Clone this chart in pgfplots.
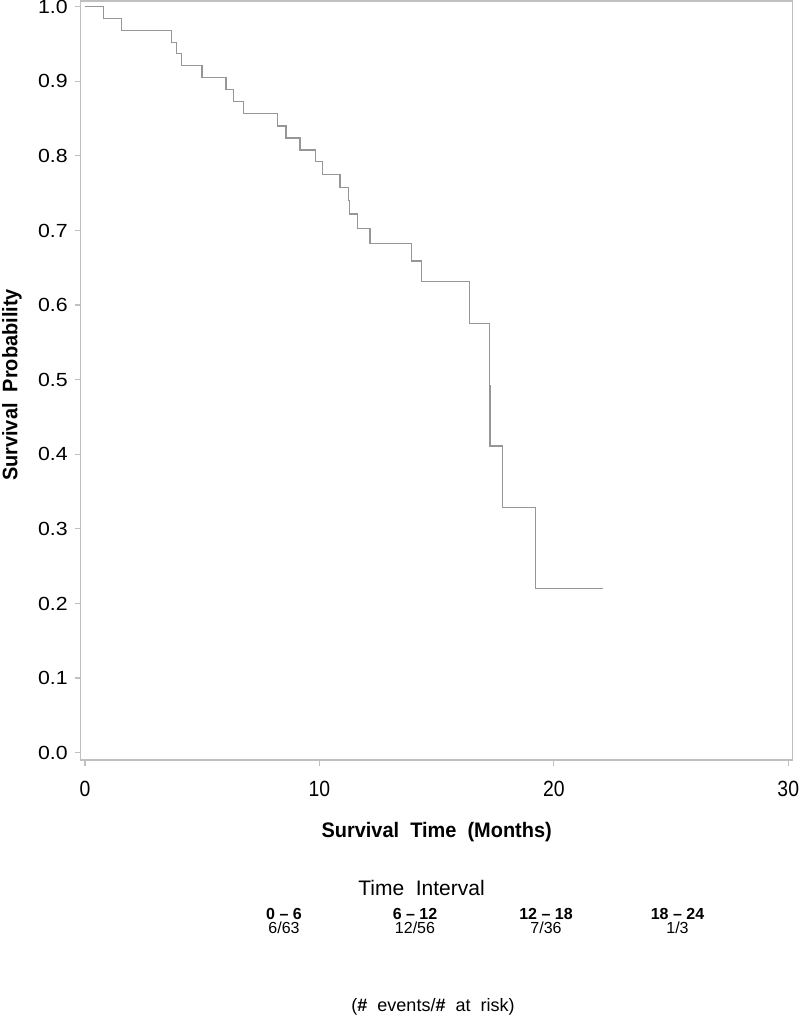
\documentclass[border=0pt]{standalone}
\usepackage{fontspec}
\setmainfont{Liberation Sans}
\newfontfamily\xtickfont[FakeStretch=0.88]{Liberation Sans}
\newfontfamily\ytickfont[FakeStretch=1.12]{Liberation Sans}
\newfontfamily\labfont[FakeStretch=0.95]{Liberation Sans}
\usepackage{pgfplots}
\pgfplotsset{compat=1.18}
\definecolor{framegray}{RGB}{192,192,192}
\definecolor{curvegray}{RGB}{150,150,150}
\begin{document}
\begin{tikzpicture}
\useasboundingbox (-40.35bp,-129.5bp) rectangle (359.65bp,380bp);
\begin{axis}[
  at={(0,0)}, anchor=south west,
  scale only axis,
  width=356bp, height=379.5bp,
  xmin=-0.18, xmax=30.19,
  ymin=-0.0098, ymax=1.0076,
  xtick={0,10,20,30},
  ytick={0,0.1,...,1.0},
  yticklabel style={/pgf/number format/fixed,/pgf/number format/fixed zerofill,/pgf/number format/precision=1},
  /pgf/number format/assume math mode=true,
  tick align=outside,
  major tick length=3bp,
  xtick pos=bottom, ytick pos=left,
  axis line style={framegray, line width=0.6bp},
  every tick/.style={framegray, line width=0.6bp},
  xticklabel style={font=\fontsize{11bp}{12bp}\selectfont\xtickfont, black, anchor=center, yshift=-11.5bp},
  yticklabel style={font=\fontsize{9.5bp}{11bp}\selectfont\ytickfont, black, anchor=east, xshift=0bp},
  xlabel={\textbf{Survival\ \ Time\ \ (Months)}},
  ylabel={\textbf{Survival\ \ Probability}},
  xlabel style={font=\fontsize{10.5bp}{12bp}\selectfont\labfont, at={(rel axis cs:0.5,0)}, anchor=center, yshift=-36bp},
  ylabel style={font=\fontsize{10.5bp}{12bp}\selectfont\labfont, at={(rel axis cs:0,0.494)}, anchor=center, yshift=34.35bp},
  clip=false,
]
\addplot[const plot, curvegray, line width=0.6bp] coordinates {
(0,1.000)
(0.78,0.984)
(1.57,0.968)
(3.70,0.952)
(3.91,0.937)
(4.13,0.921)
(4.99,0.905)
(6.02,0.889)
(6.33,0.873)
(6.75,0.857)
(8.20,0.840)
(8.58,0.824)
(9.17,0.808)
(9.85,0.792)
(10.15,0.775)
(10.88,0.758)
(11.23,0.740)
(11.28,0.722)
(11.63,0.703)
(12.16,0.683)
(13.94,0.659)
(14.36,0.632)
(16.40,0.575)
(17.25,0.492)
(17.28,0.411)
(17.80,0.329)
(19.23,0.220)
(22.11,0.220)
};
\end{axis}
\node[font=\fontsize{10.5bp}{12bp}\selectfont] at (170.4bp,-64bp) {Time\ \ Interval};
\node[font=\fontsize{8bp}{9bp}\selectfont\bfseries] at (101.65bp,-77bp) {0 -- 6};
\node[font=\fontsize{8bp}{9bp}\selectfont\bfseries] at (167.15bp,-77bp) {6 -- 12};
\node[font=\fontsize{8bp}{9bp}\selectfont\bfseries] at (232.65bp,-77bp) {12 -- 18};
\node[font=\fontsize{8bp}{9bp}\selectfont\bfseries] at (298.4bp,-77bp) {18 -- 24};
\node[font=\fontsize{8bp}{9bp}\selectfont] at (101.65bp,-84bp) {6/63};
\node[font=\fontsize{8bp}{9bp}\selectfont] at (167.15bp,-84bp) {12/56};
\node[font=\fontsize{8bp}{9bp}\selectfont] at (232.65bp,-84bp) {7/36};
\node[font=\fontsize{8bp}{9bp}\selectfont] at (298.4bp,-84bp) {1/3};
\node[font=\fontsize{9bp}{10bp}\selectfont] at (176.15bp,-123.5bp) {(\textbf{\#}\ \ events/\textbf{\#}\ \ at\ \ risk)};
\end{tikzpicture}
\end{document}
